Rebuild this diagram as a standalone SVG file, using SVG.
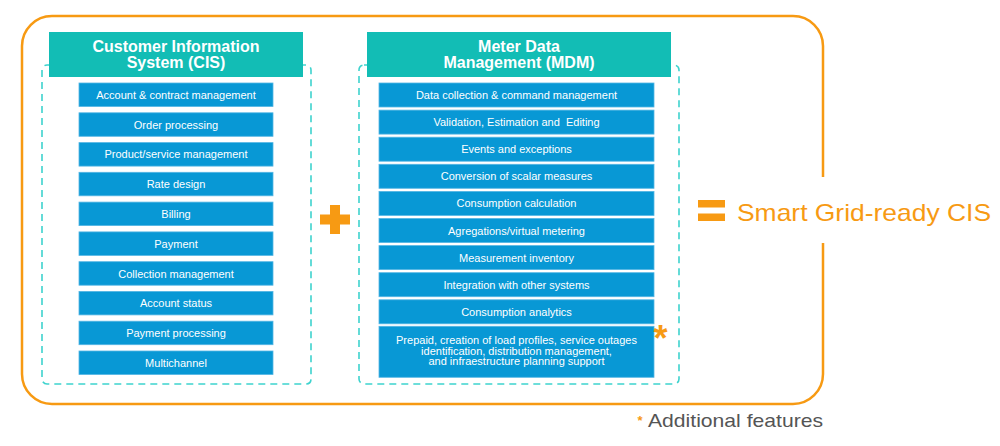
<svg xmlns="http://www.w3.org/2000/svg" width="1000" height="446" viewBox="0 0 1000 446">
<style>
.frame{fill:none;stroke:#F79A13;stroke-width:2.5}
.dash{fill:none;stroke:#3ED3CE;stroke-width:1.6;stroke-dasharray:7 5}
.hdr{fill:#12BDB5}
.hdrt{font-family:"Liberation Sans",Arial,sans-serif;font-weight:bold;font-size:16px;fill:#fff;text-anchor:middle}
.item{fill:#0898D5;stroke:#54B6E4;stroke-width:0.8}
.it{font-family:"Liberation Sans",Arial,sans-serif;font-size:11px;fill:#fff;text-anchor:middle}
.or{fill:#F79A13}
</style>
<rect width="1000" height="446" fill="#fff"/>
<path class="frame" d="M823,177 V46 A30,30 0 0 0 793,16 H52 A30,30 0 0 0 22,46 V374 A30,30 0 0 0 52,404 H793 A30,30 0 0 0 823,374 V243"/>

<g id="cis">
<rect class="dash" x="42" y="65" width="269" height="319" rx="5"/>
<rect class="hdr" x="49" y="32" width="254" height="45"/>
<text class="hdrt" x="176" y="51.5">Customer Information</text>
<text class="hdrt" x="176" y="68">System (CIS)</text>
<g id="cis-items">
<rect class="item" x="79" y="83" width="194" height="23.5"/><text class="it" x="176" y="98.8">Account &amp; contract management</text>
<rect class="item" x="79" y="112.8" width="194" height="23.5"/><text class="it" x="176" y="128.6">Order processing</text>
<rect class="item" x="79" y="142.6" width="194" height="23.5"/><text class="it" x="176" y="158.4">Product/service management</text>
<rect class="item" x="79" y="172.3" width="194" height="23.5"/><text class="it" x="176" y="188.1">Rate design</text>
<rect class="item" x="79" y="202.1" width="194" height="23.5"/><text class="it" x="176" y="217.9">Billing</text>
<rect class="item" x="79" y="231.9" width="194" height="23.5"/><text class="it" x="176" y="247.7">Payment</text>
<rect class="item" x="79" y="261.7" width="194" height="23.5"/><text class="it" x="176" y="277.5">Collection management</text>
<rect class="item" x="79" y="291.4" width="194" height="23.5"/><text class="it" x="176" y="307.2">Account status</text>
<rect class="item" x="79" y="321.2" width="194" height="23.5"/><text class="it" x="176" y="337">Payment processing</text>
<rect class="item" x="79" y="351" width="194" height="23.5"/><text class="it" x="176" y="366.8">Multichannel</text>
</g>
</g>

<g id="plus">
<rect class="or" x="320" y="214.5" width="30" height="10"/>
<rect class="or" x="330" y="205" width="10" height="29"/>
</g>

<g id="mdm">
<rect class="dash" x="359" y="65" width="320" height="319" rx="5"/>
<rect class="hdr" x="367" y="32" width="304" height="45"/>
<text class="hdrt" x="519" y="51.5">Meter Data</text>
<text class="hdrt" x="519" y="68">Management (MDM)</text>
<g id="mdm-items">
<rect class="item" x="379" y="83" width="275" height="24"/><text class="it" x="516.5" y="99">Data collection &amp; command management</text>
<rect class="item" x="379" y="110.1" width="275" height="24"/><text class="it" x="516.5" y="126.1" style="white-space:pre">Validation, Estimation and  Editing</text>
<rect class="item" x="379" y="137.2" width="275" height="24"/><text class="it" x="516.5" y="153.2">Events and exceptions</text>
<rect class="item" x="379" y="164.3" width="275" height="24"/><text class="it" x="516.5" y="180.3">Conversion of scalar measures</text>
<rect class="item" x="379" y="191.4" width="275" height="24"/><text class="it" x="516.5" y="207.4">Consumption calculation</text>
<rect class="item" x="379" y="218.5" width="275" height="24"/><text class="it" x="516.5" y="234.5">Agregations/virtual metering</text>
<rect class="item" x="379" y="245.6" width="275" height="24"/><text class="it" x="516.5" y="261.6">Measurement inventory</text>
<rect class="item" x="379" y="272.7" width="275" height="24"/><text class="it" x="516.5" y="288.7">Integration with other systems</text>
<rect class="item" x="379" y="299.8" width="275" height="24"/><text class="it" x="516.5" y="315.8">Consumption analytics</text>
<rect class="item" x="379" y="326.3" width="275" height="51"/>
<text class="it" x="516.5" y="343.5">Prepaid, creation of load profiles, service outages</text>
<text class="it" x="516.5" y="354.5">identification, distribution management,</text>
<text class="it" x="516.5" y="365.4">and infraestructure planning support</text>
</g>
<text x="660.5" y="351" font-family="Liberation Sans,Arial,sans-serif" font-weight="bold" font-size="36" fill="#F79A13" text-anchor="middle">*</text>
</g>

<g id="result">
<rect class="or" x="698" y="200" width="27" height="7.5"/>
<rect class="or" x="698" y="213.5" width="27" height="7.5"/>
<text x="737" y="221" font-family="Liberation Sans,Arial,sans-serif" font-size="24" fill="#F79A13" textLength="254" lengthAdjust="spacingAndGlyphs">Smart Grid-ready CIS</text>
</g>

<g id="legend">
<text x="640" y="425" font-family="Liberation Sans,Arial,sans-serif" font-weight="bold" font-size="13" fill="#F79A13" text-anchor="middle">*</text>
<text x="648" y="427" font-family="Liberation Sans,Arial,sans-serif" font-size="19" fill="#555" textLength="175" lengthAdjust="spacingAndGlyphs">Additional features</text>
</g>
</svg>
